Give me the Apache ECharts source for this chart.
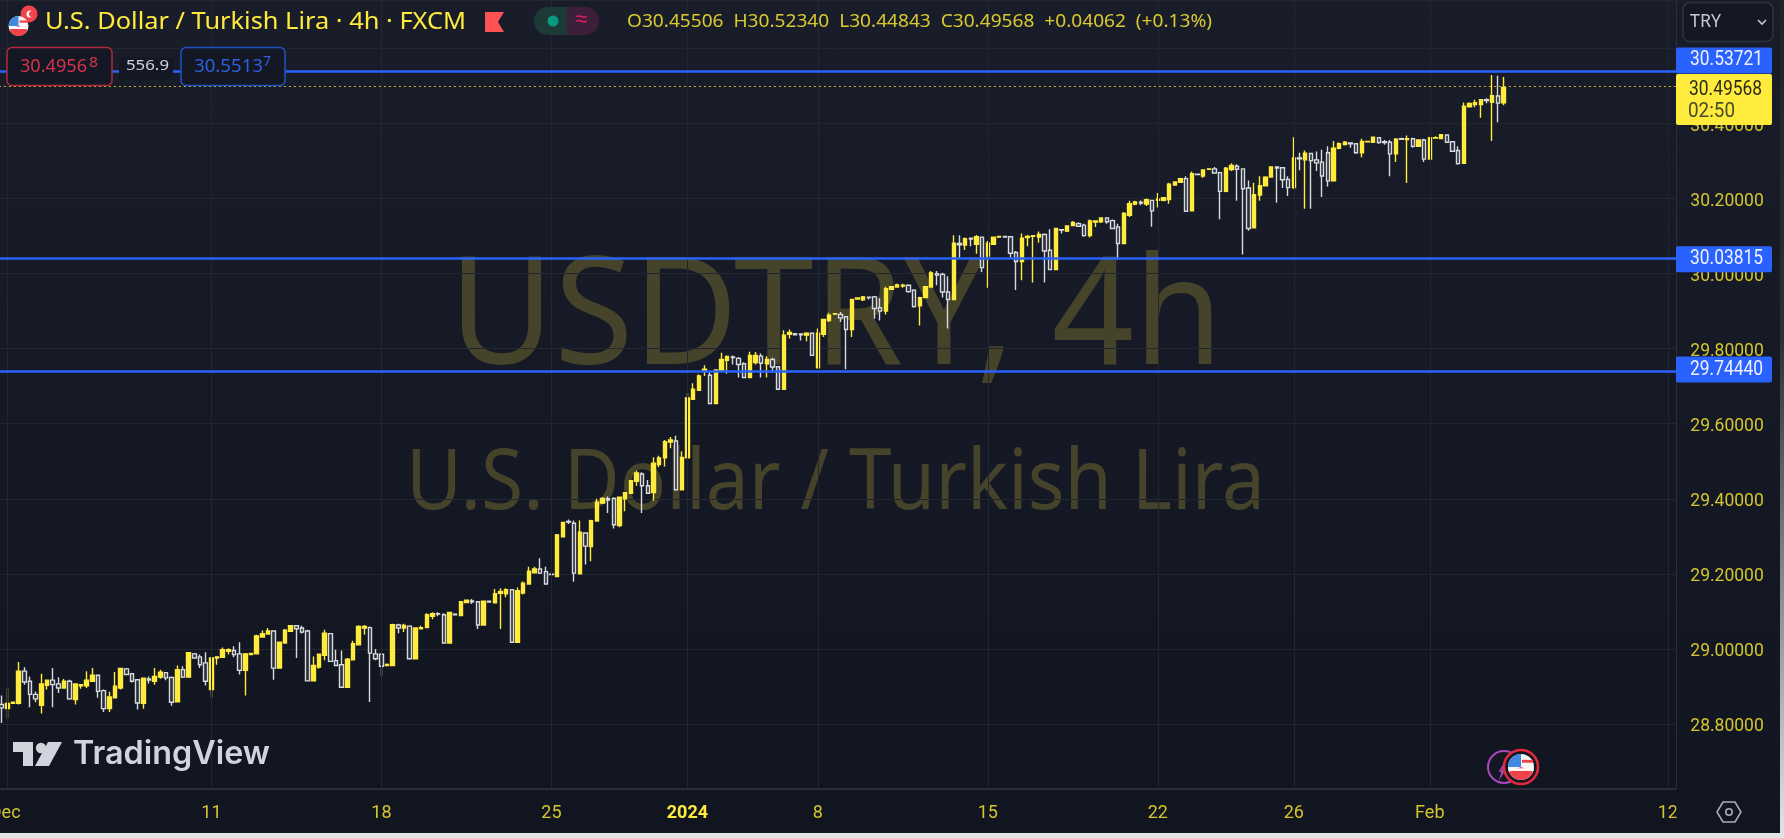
<!DOCTYPE html>
<html><head><meta charset="utf-8">
<style>html,body{margin:0;padding:0;background:#131722}#c{width:1784px;height:838px}</style>
<script src="https://cdn.jsdelivr.net/npm/echarts@6/dist/echarts.min.js"></script>
</head><body><div id="c"></div>
<script>
// Each bar: [open, high, low, close]
const decemberBars=[
[28.852,28.876,28.803,28.843],[28.841,28.896,28.814,28.855],[28.855,28.859,28.854,28.858],[28.855,28.965,28.852,28.941],[28.941,28.951,28.905,28.912],[28.914,28.927,28.845,28.879],[28.879,28.887,28.858,28.867],[28.850,28.934,28.828,28.907],[28.903,28.918,28.892,28.917],[28.917,28.949,28.845,28.905],
[28.907,28.925,28.883,28.896],[28.896,28.920,28.894,28.914],[28.914,28.918,28.865,28.867],[28.865,28.908,28.852,28.907],[28.902,28.907,28.894,28.905],[28.902,28.941,28.896,28.917],[28.914,28.949,28.913,28.930],[28.930,28.932,28.870,28.887],[28.889,28.892,28.832,28.841],[28.841,28.886,28.832,28.872],
[28.870,28.939,28.869,28.901],[28.896,28.949,28.892,28.948],[28.947,28.949,28.930,28.932],[28.934,28.936,28.911,28.914],[28.918,28.920,28.839,28.856],[28.855,28.923,28.841,28.922],[28.920,28.927,28.908,28.917],[28.914,28.949,28.905,28.927],[28.925,28.945,28.921,28.938],[28.937,28.939,28.917,28.923],
[28.924,28.927,28.849,28.858],[28.859,28.956,28.858,28.945],[28.945,28.954,28.923,28.925],[28.925,28.991,28.924,28.990],[28.987,28.989,28.974,28.976],[28.979,28.985,28.949,28.958],[28.963,28.991,28.903,28.914],[28.892,28.979,28.870,28.976],[28.976,28.980,28.958,28.979],[28.978,29.004,28.976,28.998],
[28.994,29.002,28.985,28.998],[28.996,29.007,28.978,28.985],[28.987,29.018,28.932,28.943],[28.943,28.989,28.876,28.987],[28.985,28.989,28.984,28.988],[28.987,29.038,28.986,29.035],[29.032,29.049,29.030,29.041],[29.040,29.056,29.038,29.048],[29.048,29.049,28.918,28.949],[28.949,29.020,28.948,29.018],
[29.016,29.053,29.015,29.050],[29.047,29.063,29.045,29.062],[29.062,29.064,28.976,29.054],[29.056,29.062,29.041,29.045],[29.048,29.051,28.914,28.915],[28.915,28.980,28.914,28.956],[28.952,28.987,28.947,28.986],[28.983,29.051,28.970,29.042],[29.041,29.042,28.965,28.967],[28.969,28.998,28.955,28.956],
[28.958,28.996,28.896,28.898],[28.898,28.976,28.896,28.973],[28.971,29.022,28.969,29.014],[29.011,29.063,29.010,29.060],[29.056,29.064,29.038,29.060],[29.057,29.060,28.859,28.989],[28.987,29.000,28.970,28.974],[28.986,28.987,28.927,28.954],[28.956,28.961,28.955,28.959],[28.956,29.067,28.955,29.065],
[29.064,29.067,29.042,29.056],[29.056,29.067,29.045,29.063],[29.061,29.063,28.973,28.974],[28.974,29.057,28.973,29.056],[29.054,29.062,29.053,29.057],[29.057,29.095,29.056,29.091],[29.087,29.098,29.079,29.094],[29.094,29.098,29.087,29.093],[29.091,29.095,29.015,29.016],[29.016,29.099,29.015,29.097],
[29.093,29.093,29.091,29.091],[29.089,29.128,29.088,29.126],[29.124,29.131,29.123,29.130],[29.128,29.133,29.120,29.126],[29.126,29.127,29.053,29.064],[29.064,29.128,29.063,29.127],[29.127,29.128,29.124,29.125],[29.123,29.160,29.122,29.147],[29.148,29.162,29.053,29.153],[29.147,29.162,29.138,29.158],
[29.158,29.160,29.017,29.018],[29.018,29.164,29.017,29.155],[29.149,29.180,29.145,29.175],[29.173,29.219,29.171,29.207],[29.203,29.219,29.202,29.213],[29.213,29.242,29.200,29.202],[29.206,29.219,29.171,29.173],[29.199,29.199,29.197,29.198],[29.193,29.306,29.192,29.304],[29.299,29.339,29.297,29.337],
[29.340,29.345,29.333,29.338],[29.335,29.342,29.179,29.202],[29.200,29.342,29.199,29.311],[29.309,29.311,29.225,29.274],[29.273,29.344,29.234,29.342],[29.341,29.400,29.340,29.391],[29.389,29.404,29.386,29.401],[29.400,29.406,29.362,29.397],[29.401,29.404,29.321,29.331],[29.329,29.406,29.324,29.404],
[29.400,29.417,29.367,29.416],[29.415,29.450,29.413,29.448],[29.447,29.475,29.435,29.469],[29.466,29.471,29.362,29.435],[29.435,29.450,29.413,29.415],[29.417,29.511,29.395,29.495],[29.491,29.515,29.484,29.509],[29.509,29.557,29.486,29.552],[29.551,29.565,29.535,29.557],[29.554,29.568,29.423,29.424],
[29.424,29.527,29.423,29.510]];
const januaryBars=[
[29.509,29.682,29.508,29.669],[29.665,29.708,29.663,29.692],[29.689,29.732,29.687,29.727],[29.740,29.756,29.727,29.745],[29.729,29.740,29.653,29.654],[29.654,29.745,29.653,29.743],[29.740,29.789,29.739,29.771],[29.769,29.782,29.733,29.779],[29.778,29.782,29.758,29.776],
[29.774,29.778,29.723,29.758],[29.760,29.764,29.722,29.723],[29.723,29.792,29.722,29.782],[29.763,29.791,29.758,29.782],[29.780,29.787,29.723,29.761],[29.760,29.780,29.723,29.771],[29.771,29.776,29.736,29.751],[29.752,29.754,29.691,29.692],[29.692,29.849,29.691,29.836],[29.838,29.851,29.827,29.843],
[29.840,29.841,29.836,29.837],[29.839,29.840,29.822,29.837],[29.836,29.844,29.820,29.841],[29.841,29.843,29.781,29.782],[29.749,29.854,29.747,29.841],[29.838,29.880,29.831,29.878],[29.875,29.896,29.871,29.889],[29.892,29.894,29.891,29.893],[29.891,29.898,29.871,29.882],[29.885,29.887,29.745,29.851],
[29.851,29.933,29.831,29.931],[29.932,29.936,29.930,29.935],[29.930,29.940,29.927,29.938],[29.937,29.938,29.931,29.936],[29.938,29.940,29.880,29.907],[29.909,29.934,29.875,29.900],[29.900,29.965,29.891,29.960],[29.958,29.967,29.956,29.965],[29.964,29.973,29.962,29.970],[29.967,29.973,29.962,29.969],
[29.969,29.970,29.949,29.952],[29.956,29.958,29.909,29.912],[29.914,29.938,29.862,29.936],[29.936,29.967,29.934,29.965],[29.964,30.007,29.962,30.002],[30.000,30.007,29.969,29.996],[29.998,30.002,29.936,29.951],[29.951,29.993,29.854,29.931],[29.931,30.102,29.930,30.081],[30.080,30.102,30.042,30.077],
[30.076,30.096,30.063,30.093],[30.094,30.096,30.073,30.092],[30.078,30.103,30.053,30.098],[30.097,30.098,30.004,30.016],[30.047,30.087,29.962,30.081],[30.078,30.098,30.077,30.097],[30.097,30.100,30.096,30.099],[30.099,30.099,30.096,30.097],[30.098,30.100,30.042,30.054],[30.056,30.060,29.956,30.032],
[30.032,30.107,29.982,30.094],[30.096,30.103,30.073,30.099],[30.099,30.103,29.976,30.101],[30.097,30.112,30.082,30.104],[30.104,30.107,29.976,30.060],[30.062,30.118,30.009,30.011],[30.011,30.120,30.010,30.120],[30.117,30.118,30.107,30.116],[30.113,30.129,30.111,30.127],[30.128,30.140,30.127,30.136],
[30.133,30.137,30.124,30.126],[30.129,30.133,30.098,30.101],[30.101,30.144,30.096,30.140],[30.137,30.141,30.124,30.140],[30.138,30.149,30.135,30.148],[30.148,30.149,30.133,30.138],[30.141,30.144,30.118,30.120],[30.1245,30.133,30.036,30.080],[30.080,30.164,30.079,30.160],[30.155,30.194,30.151,30.186],
[30.185,30.194,30.182,30.191],[30.190,30.195,30.182,30.188],[30.185,30.200,30.180,30.197],[30.195,30.197,30.1245,30.167],[30.195,30.215,30.176,30.198],[30.195,30.204,30.193,30.202],[30.197,30.242,30.186,30.238],[30.236,30.246,30.234,30.244],[30.243,30.255,30.241,30.253],[30.253,30.259,30.164,30.166],
[30.167,30.272,30.166,30.266],[30.265,30.266,30.263,30.264],[30.260,30.278,30.255,30.276],[30.278,30.280,30.277,30.279],[30.279,30.284,30.266,30.268],[30.269,30.271,30.145,30.219],[30.219,30.284,30.217,30.281],[30.277,30.294,30.273,30.288],[30.286,30.291,30.194,30.278],[30.279,30.280,30.051,30.226],
[30.228,30.248,30.114,30.120],[30.122,30.242,30.120,30.210],[30.209,30.259,30.194,30.234],[30.234,30.259,30.232,30.257],[30.257,30.286,30.255,30.284],[30.284,30.286,30.189,30.281],[30.282,30.284,30.228,30.250],[30.251,30.259,30.207,30.229],[30.229,30.363,30.226,30.308],[30.308,30.322,30.275,30.306],
[30.303,30.328,30.173,30.321],[30.320,30.322,30.173,30.301],[30.303,30.325,30.273,30.295],[30.297,30.330,30.204,30.260],[30.322,30.339,30.232,30.247],[30.247,30.353,30.246,30.334],[30.334,30.350,30.331,30.346],[30.344,30.353,30.341,30.350],[30.348,30.350,30.335,30.346],[30.346,30.348,30.319,30.322],
[30.322,30.359,30.310,30.352],[30.351,30.353,30.350,30.352],[30.350,30.363,30.349,30.363],[30.362,30.363,30.346,30.349],[30.351,30.356,30.343,30.349],[30.350,30.356,30.259,30.319],[30.319,30.361,30.297,30.358],[30.359,30.362,30.356,30.358],[30.357,30.368,30.241,30.359],[30.359,30.362,30.335,30.339],
[30.339,30.357,30.338,30.356],[30.356,30.359,30.297,30.305]];
const februaryBars=[
[30.305,30.363,30.304,30.362],[30.361,30.366,30.359,30.362],[30.360,30.370,30.359,30.370],[30.369,30.370,30.349,30.350],[30.351,30.353,30.324,30.326],[30.328,30.339,30.290,30.293],[30.294,30.456,30.293,30.446],[30.444,30.456,30.443,30.453],[30.450,30.463,30.443,30.455],[30.450,30.463,30.415,30.463],
[30.463,30.467,30.454,30.461],[30.456,30.529,30.353,30.474],[30.473,30.527,30.403,30.454],[30.45506,30.5234,30.44843,30.49568]];
const tickIndexes=[1,37,67,97,121,144,174,204,228,252,294];
const tickLabels=['Dec ','11','18','25','2024','8','15','22','26','Feb','12'];
const levelLines=[30.53721,30.03815,29.7444];
const lastPrice=30.49568;
const countdown='02:50';
const slotCount=296;
const bars=decemberBars.concat(januaryBars,februaryBars);
const categories=Array.from({length:slotCount},(_,i)=>String(i));

const YEL='#ffeb3b', AX='#d4c52e', GRID='#22262f', AXL='#2a2e39', BLUE='#2962ff';
const FONT='"Noto Sans",sans-serif';
const AXF='Roboto,sans-serif';
const mc=document.createElement('canvas').getContext('2d');
function txt(s,x,y,size,color,o){o=o||{};
  const weight=o.weight||'normal', fam=o.font||FONT;
  mc.font=weight+' '+size+'px '+fam;
  const sx=o.w?o.w/mc.measureText(s).width:1;
  return {type:'text',x:x,y:y,scaleX:sx,z:o.z==null?50:o.z,silent:true,
    style:{text:s,x:0,y:0,fill:color,font:weight+' '+size+'px '+fam,textAlign:o.align||'left',textVerticalAlign:'middle'}};
}
function rect(x,y,w,h,fill,o){o=o||{};
  return {type:'rect',z:o.z==null?49:o.z,silent:true,shape:{x:x,y:y,width:w,height:h,r:o.r||0},style:{fill:fill,stroke:o.stroke||null,lineWidth:o.lw||0}};
}
function circ(x,y,r,fill,o){o=o||{};
  return {type:'circle',z:o.z==null?50:o.z,silent:true,shape:{cx:x,cy:y,r:r},style:{fill:fill,stroke:o.stroke||null,lineWidth:o.lw||0}};
}
function poly(pts,fill,o){o=o||{};
  return {type:'polygon',z:o.z==null?50:o.z,silent:true,shape:{points:pts},style:{fill:o.nofill?null:fill,stroke:o.stroke||null,lineWidth:o.lw||0}};
}
function usFlag(cx,cy,r,z){
  const rr=r;
  return [circ(cx,cy,rr,'#f5f5f5',{z:z}),
    {type:'sector',z:z+1,silent:true,shape:{cx:cx,cy:cy,r:rr,startAngle:Math.PI*0.12,endAngle:Math.PI*0.88},style:{fill:'#f0424a'}},
    {type:'sector',z:z+1,silent:true,shape:{cx:cx,cy:cy,r:rr,startAngle:Math.PI*1.0,endAngle:Math.PI*1.5},style:{fill:'#3f8ae0'}},
    rect(cx+1,cy-rr*0.55,rr*0.85,rr*0.22,'#f0424a',{z:z+2}),
    rect(cx-rr*0.95,cy+rr*0.1,rr*1.9,rr*0.2,'#ffffff',{z:z+2})];
}
const chart=echarts.init(document.getElementById('c'),null,{renderer:'canvas'});
const base=[
  txt('USDTRY, 4h',449,321,150,'#45432a',{w:774,z:-1}),
  txt('U.S. Dollar / Turkish Lira',406,485,84,'#45432a',{w:859,z:-1}),
  // header
  circ(29,14,8.5,'#f0424a'),circ(30,14,3.5,'#ffffff',{z:51}),circ(32,14,3,'#f0424a',{z:52}),
  ...usFlag(18.5,26,10,53),
  txt('U.S. Dollar / Turkish Lira · 4h · FXCM',45,22,23,YEL,{w:421}),
  poly([[485,12],[504,12],[498,22],[504,32],[485,32]],'#ff5252'),
  rect(534,7,33,28,'#1e3a38',{r:[14,0,0,14]}),
  rect(567,7,32,28,'#3c1f38',{r:[0,14,14,0]}),
  circ(553,21,5.5,'#089981',{z:51}),
  txt('≈',581,20,22,'#e91e63',{align:'center',z:51}),
  txt('O30.45506  H30.52340  L30.44843  C30.49568  +0.04062  (+0.13%)',627,22,18,'#d9c92e',{w:585}),
  // order boxes
  rect(7,47.5,105,38,'#141824',{r:5,stroke:'#b2283a',lw:1.5}),
  txt('30.4956',20,67,18,'#d6334a',{w:67}),
  txt('8',89,63,14,'#d6334a',{w:9}),
  rect(119,58,54,22,'#141824',{z:48}),
  txt('556.9',126,66,15,'#d1d4dc',{w:43}),
  rect(181,47.5,104,38,'#141824',{r:5,stroke:'#2251c4',lw:1.5}),
  txt('30.5513',194,67,18,'#2d5fe0',{w:69}),
  txt('7',263,62,14,'#2d5fe0',{w:8}),
  // TRY box
  rect(1683,2.5,90,39,'#141824',{r:7,stroke:'#2f333d',lw:1.5}),
  txt('TRY',1690,22,18,'#c6c9d2',{w:31}),
  {type:'polyline',z:51,silent:true,shape:{points:[[1758,20],[1762,24],[1766,20]]},style:{stroke:'#c6c9d2',lineWidth:1.6,fill:null}},
  // TradingView logo
  poly([[13,742],[33,742],[33,766],[23,766],[23,752],[13,752]],'#d1d4dc'),
  circ(41,748,5.2,'#d1d4dc'),
  poly([[48,742],[62,742],[49,766],[35,766]],'#d1d4dc'),
  txt('TradingView',73,754,32,'#d1d4dc',{font:'Inter,sans-serif',weight:600,w:197}),
  // event markers
  circ(1504,767,16,'#141824',{stroke:'#ab47bc',lw:2,z:50}),
  poly([[1505,762],[1500,771],[1504,771],[1501,776]],'#ab47bc',{nofill:true,stroke:'#ab47bc',lw:1.5,z:51}),
  circ(1521,767,17,'#141824',{stroke:'#e5283a',lw:2.5,z:52}),
  ...usFlag(1521,767,13,53),
  // settings
  poly([[1717,812],[1723,802],[1735,802],[1741,812],[1735,822],[1723,822]],'',{nofill:true,stroke:'#a9acb5',lw:1.6}),
  circ(1729,812,3.2,null,{stroke:'#a9acb5',lw:1.6}),
  // last tick label is cut by the price scale
  rect(1676.5,792,14,38,'#121621',{z:40}),
  // screenshot edge
  rect(0,833,1784,5,'#e4e4e6',{z:60}),
  {type:'rect',z:60,silent:true,shape:{x:1780,y:0,width:4,height:838},style:{fill:{type:'linear',x:0,y:0,x2:0,y2:1,colorStops:[{offset:0,color:'#20232c'},{offset:0.4,color:'#2b2e38'},{offset:1,color:'#e4e4e6'}]}}}
];
const option={
  animation:false,
  backgroundColor:{type:'linear',x:0,y:0,x2:0,y2:1,colorStops:[{offset:0,color:'#191d2a'},{offset:1,color:'#111520'}]},
  grid:{left:-1.1,right:1784-1676.3,top:0,height:789,containLabel:false,outerBoundsMode:'none'},
  xAxis:{type:'category',data:categories,boundaryGap:true,
    axisLine:{show:true,lineStyle:{color:AXL,width:2}},axisTick:{show:false},splitLine:{show:false},
    axisLabel:{show:true,hideOverlap:false,interval:(i)=>tickIndexes.includes(i),margin:15,
      fontFamily:AXF,fontSize:18,
      formatter:(v)=>{const k=tickIndexes.indexOf(Number(v));const s=k<0?'':tickLabels[k];return s==='2024'?'{b|2024}':s;},
      color:AX,rich:{b:{fontFamily:AXF,fontSize:18,fontWeight:'bold',color:YEL}}}},
  yAxis:{type:'value',position:'right',min:28.627,max:30.7288,splitNumber:10,scale:true,
    axisLine:{show:true,lineStyle:{color:AXL,width:1}},axisTick:{show:false},
    splitLine:{show:true,lineStyle:{color:GRID,width:1}},
    axisLabel:{color:AX,fontFamily:AXF,fontSize:17.5,margin:14,showMinLabel:false,showMaxLabel:false,
      formatter:v=>v>30.5?'':'{s| }\n{a|'+v.toFixed(5)+'}',
      rich:{s:{fontSize:1,lineHeight:6},a:{fontFamily:AXF,fontSize:17.5,lineHeight:20,color:AX}}}},
  series:[
    {type:'line',data:[],z:1,silent:true,showSymbol:false,
      markLine:{silent:true,symbol:'none',animation:false,label:{show:false},lineStyle:{color:GRID,width:1,type:'solid'},
        data:tickIndexes.map(i=>({xAxis:i}))}},
    {type:'line',data:[],z:2,silent:true,showSymbol:false,
      markLine:{silent:true,symbol:'none',animation:false,label:{show:false},lineStyle:{color:BLUE,width:2.6,type:'solid'},
        data:levelLines.map(v=>({yAxis:v}))}},
    {type:'line',data:[],z:2,silent:true,showSymbol:false,
      markLine:{silent:true,symbol:'none',animation:false,label:{show:false},lineStyle:{color:'#c9b92c',width:1,type:[2,3]},
        data:[{yAxis:lastPrice}]}},
    {type:'candlestick',z:3,barWidth:4,silent:true,
      data:bars.map(b=>[b[0],b[3],b[2],b[1]]),
      itemStyle:{color:YEL,borderColor:YEL,color0:'#2a2d38',borderColor0:'#d8dae0',borderWidth:1.4}}
  ],
  graphic:{elements:base}
};
chart.setOption(option);
const py=v=>chart.convertToPixel({yAxisIndex:0},v);
const tags=[];
const tagOffsets=[-11.5,0,0];
levelLines.forEach((v,i)=>{
  const y=py(v)+tagOffsets[i];
  tags.push(rect(1676,y-13,96,26,BLUE,{r:2,z:40}));
  tags.push(txt(v.toFixed(5),1690,y,20,'#eef1fb',{font:AXF,w:73,z:41}));
});
const ly=py(lastPrice);
tags.push(rect(1676,ly-13.5,96,51,YEL,{r:2,z:42}));
tags.push(txt(lastPrice.toFixed(5),1689,ly+2,20,'#2a2a1c',{font:AXF,w:73,z:43}));
tags.push(txt(countdown,1688,ly+24,20,'#4a4a2a',{font:AXF,w:47,z:43}));
chart.setOption({graphic:{elements:base.concat(tags)}});
</script></body></html>
